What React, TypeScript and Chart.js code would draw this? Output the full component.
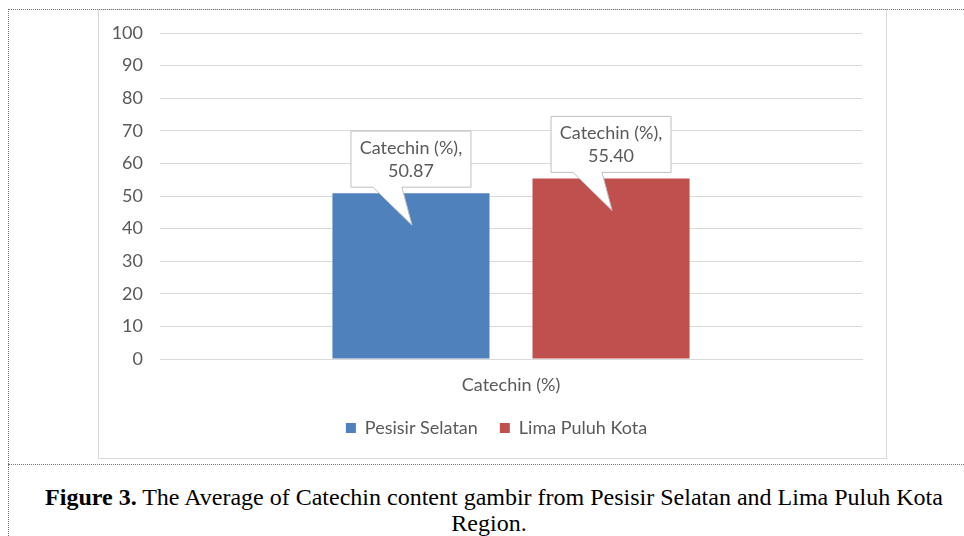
import React, { useEffect, useRef } from "react";
import { Chart, registerables } from "chart.js";

Chart.register(...registerables);

const categories = ["Catechin (%)"];
const seriesNames = ["Pesisir Selatan", "Lima Puluh Kota"];
const pesisirSelatan = [50.87];
const limaPuluhKota = [55.4];
const seriesColors = ["#4f81bd", "#c0504d"];
const yMin = 0;
const yMax = 100;
const yStep = 10;

const FONT = "Lato, 'Open Sans', sans-serif";
const FS = 18;
const TEXT = "#595959";

const calloutPlugin = {
  id: "callouts",
  afterDatasetsDraw(chart: any) {
    const ctx = chart.ctx;
    chart.data.datasets.forEach((ds: any, di: number) => {
      const meta = chart.getDatasetMeta(di);
      meta.data.forEach((bar: any, i: number) => {
        const cx = bar.x;
        const top = bar.y;
        const w = 120;
        const h = 56;
        const bx = cx - w / 2;
        const bBottom = top - 6;
        const bTop = bBottom - h;
        ctx.save();
        ctx.beginPath();
        ctx.moveTo(bx, bTop);
        ctx.lineTo(bx + w, bTop);
        ctx.lineTo(bx + w, bBottom);
        ctx.lineTo(cx - 9, bBottom);
        ctx.lineTo(cx + 1, top + 32);
        ctx.lineTo(cx - 38, bBottom);
        ctx.lineTo(bx, bBottom);
        ctx.closePath();
        ctx.fillStyle = "#ffffff";
        ctx.fill();
        ctx.strokeStyle = "#bfbfbf";
        ctx.lineWidth = 1;
        ctx.stroke();
        ctx.fillStyle = TEXT;
        ctx.font = `${FS}px ${FONT}`;
        ctx.textAlign = "center";
        ctx.textBaseline = "middle";
        ctx.fillText(`${chart.data.labels[i]},`, cx, bTop + 17);
        ctx.fillText(Number(ds.data[i]).toFixed(2), cx, bTop + 40);
        ctx.restore();
      });
    });
  },
};

// centre the legend under the plot like the reference (shift its box to the right)
const legendShiftPlugin = {
  id: "legendShift",
  afterLayout(chart: any) {
    if (chart.legend) {
      chart.legend.left += 32;
    }
  },
};

function BarChart() {
  const ref = useRef<HTMLCanvasElement | null>(null);
  useEffect(() => {
    if (!ref.current) return;
    const chart = new Chart(ref.current, {
      type: "bar",
      data: {
        labels: categories,
        datasets: [
          {
            label: seriesNames[0],
            data: pesisirSelatan,
            backgroundColor: seriesColors[0],
            categoryPercentage: 0.57,
            barPercentage: 0.785,
          },
          {
            label: seriesNames[1],
            data: limaPuluhKota,
            backgroundColor: seriesColors[1],
            categoryPercentage: 0.57,
            barPercentage: 0.785,
          },
        ],
      },
      options: {
        responsive: false,
        animation: false,
        layout: { padding: { left: 0, right: 23, top: 23, bottom: 10 } },
        plugins: {
          tooltip: { enabled: false },
          legend: {
            position: "bottom",
            labels: {
              boxWidth: 10,
              boxHeight: 10,
              padding: 22,
              color: TEXT,
              font: { family: FONT, size: FS },
            },
          },
        },
        scales: {
          x: {
            grid: { display: false, drawTicks: false },
            border: { display: true, color: "#d9d9d9" },
            ticks: { color: TEXT, font: { family: FONT, size: FS }, padding: 15 },
            afterFit: (s: any) => {
              s.height = 38;
            },
          },
          y: {
            min: yMin,
            max: yMax,
            grid: { color: "#d9d9d9", drawTicks: false },
            border: { display: false },
            ticks: {
              stepSize: yStep,
              color: TEXT,
              font: { family: FONT, size: FS },
              padding: 17,
            },
            afterFit: (s: any) => {
              s.width = 61;
              s.paddingTop = 0;
              s.paddingBottom = 0;
            },
          },
        },
      },
      plugins: [calloutPlugin, legendShiftPlugin],
    } as any);
    return () => chart.destroy();
  }, []);
  return <canvas ref={ref} width={786} height={447} style={{ display: "block" }} />;
}

const captionStyle: React.CSSProperties = {
  position: "absolute",
  width: 956,
  textAlign: "center",
  fontFamily: "'Liberation Serif', 'Times New Roman', serif",
  fontSize: 24,
  lineHeight: "26px",
  color: "#000",
  whiteSpace: "nowrap",
};

export default function App() {
  return (
    <div style={{ position: "absolute", left: 0, top: 0, width: 964, height: 536, overflow: "hidden", background: "#fff" }}>
      <div style={{ position: "absolute", left: 98, top: 9, width: 787, height: 448, border: "1px solid #d9d9d9" }}>
        <BarChart />
      </div>
      <div style={{ position: "absolute", left: 8, top: 9, width: 956, height: 0, borderTop: "1px dotted #777" }} />
      <div style={{ position: "absolute", left: 8, top: 9, width: 0, height: 527, borderLeft: "1px dotted #777" }} />
      <div style={{ position: "absolute", left: 8, top: 464, width: 956, height: 0, borderTop: "1px dotted #777" }} />
      <div style={{ ...captionStyle, left: 16, top: 484 }}>
        <b>Figure 3.</b> The Average of Catechin content gambir from Pesisir Selatan and Lima Puluh Kota
      </div>
      <div style={{ ...captionStyle, left: 11, top: 510 }}>Region.</div>
    </div>
  );
}
